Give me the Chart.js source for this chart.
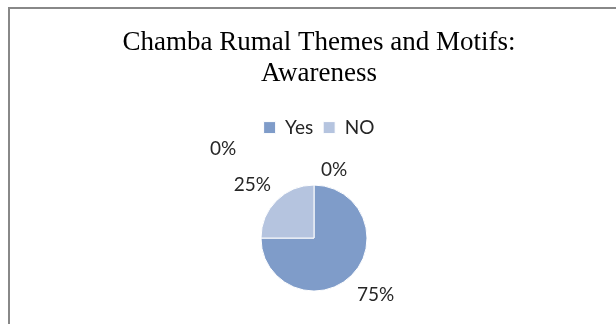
<!DOCTYPE html>
<html>
<head>
<meta charset="utf-8">
<script src="https://cdn.jsdelivr.net/npm/chart.js@4.4.1/dist/chart.umd.min.js"></script>
<style>
    html, body { margin: 0; padding: 0; background: #fff; overflow: hidden; }
    #frame {
        position: absolute;
        left: 8px;
        top: 7px;
        width: 626px;
        height: 380px;
        border: 2px solid #888;
        background: #fff;
    }
    canvas { display: block; }
</style>
</head>
<body>
<div id="frame">
    <canvas id="awarenessChart" width="626" height="380"></canvas>
</div>
<script>
// --- Survey data ---
const categories = ['Yes', 'NO', '', ''];
const shares = [75, 25, 0, 0];
const sliceColors = ['#7f9cc9', '#b5c4df', '#9bb0d4', '#c9d4e8'];
const titleLines = ['Chamba Rumal Themes and Motifs:', 'Awareness'];

// label nudges, mostly so the zero slices don't stack on each other
const labelNudge = [[3, -2], [-3, 6], [20, 15], [-91, -6]];

// pie sits a little left of the title centre
const plotShift = {
    id: 'plotShift',
    afterLayout(chart) {
        chart.chartArea.left -= 5;
        chart.chartArea.right -= 5;
    }
};

const percentLabels = {
    id: 'percentLabels',
    afterDatasetsDraw(chart) {
        const ctx = chart.ctx;
        const meta = chart.getDatasetMeta(0);
        ctx.save();
        ctx.font = '19px Lato';
        ctx.fillStyle = '#262626';
        ctx.textAlign = 'center';
        ctx.textBaseline = 'middle';
        meta.data.forEach((arc, i) => {
            const mid = (arc.startAngle + arc.endAngle) / 2;
            const dist = arc.outerRadius + 30;
            const x = arc.x + Math.cos(mid) * dist + labelNudge[i][0];
            const y = arc.y + Math.sin(mid) * dist + labelNudge[i][1];
            ctx.fillText(shares[i] + '%', x, y);
        });
        ctx.restore();
    }
};

const ctx = document.getElementById('awarenessChart').getContext('2d');
new Chart(ctx, {
    type: 'pie',
    data: {
        labels: categories,
        datasets: [{
            data: shares,
            backgroundColor: sliceColors,
            borderColor: '#ffffff',
            borderWidth: 1,
            radius: 53
        }]
    },
    options: {
        responsive: false,
        animation: false,
        layout: { padding: { left: 0, right: 8, top: 0, bottom: 60 } },
        plugins: {
            title: {
                display: true,
                text: titleLines,
                color: '#000',
                font: { family: 'Liberation Serif', size: 27, weight: 'normal', lineHeight: 1.15 },
                padding: { top: 18, bottom: 19 }
            },
            legend: {
                position: 'top',
                labels: {
                    font: { family: 'Lato', size: 19 },
                    color: '#262626',
                    boxWidth: 12,
                    boxHeight: 12,
                    padding: 10,
                    filter: (item) => item.text !== ''
                }
            },
            tooltip: { enabled: false }
        }
    },
    plugins: [plotShift, percentLabels]
});
</script>
</body>
</html>
